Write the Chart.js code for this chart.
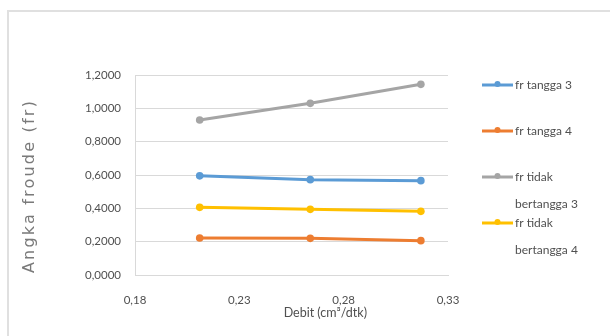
<!DOCTYPE html>
<html>
<head>
<meta charset="utf-8">
<script src="https://cdn.jsdelivr.net/npm/chart.js@4/dist/chart.umd.min.js"></script>
<style>
  html, body { margin: 0; padding: 0; background: #ffffff; }
  canvas { display: block; }
</style>
</head>
<body>
<canvas id="c" width="610" height="336"></canvas>
<script>
// Discharge (x) and Froude number (y) for each configuration
const debit = [0.211, 0.264, 0.317];
const frTangga3 = [0.595, 0.572, 0.566];
const frTangga4 = [0.222, 0.220, 0.206];
const frTidakBertangga3 = [0.930, 1.030, 1.144];
const frTidakBertangga4 = [0.406, 0.394, 0.382];

const seriesLabels = [
  ['fr tangga 3'],
  ['fr tangga 4'],
  ['fr tidak', 'bertangga 3'],
  ['fr tidak', 'bertangga 4']
];
const seriesColors = ['#5b9bd5', '#ed7d31', '#a5a5a5', '#ffc000'];
const seriesValues = [frTangga3, frTangga4, frTidakBertangga3, frTidakBertangga4];

const xTitle = 'Debit (cm³/dtk)';
const yTitle = 'Angka froude (fr)';

const FONT = 'Lato, "Liberation Sans", sans-serif';
const TEXT = '#505050';

const toComma = (v, d) => v.toFixed(d).replace('.', ',');

const datasets = seriesValues.map((vals, i) => ({
  label: seriesLabels[i].join(' '),
  legendLines: seriesLabels[i],
  data: vals.map((y, j) => ({ x: debit[j], y })),
  borderColor: seriesColors[i],
  backgroundColor: seriesColors[i],
  borderWidth: 3,
  pointRadius: 3.8,
  pointBorderWidth: 0,
  pointBackgroundColor: seriesColors[i],
  tension: 0
}));

// Chart frame: light rule along the top and left edges
const frame = {
  id: 'frame',
  beforeDraw(chart) {
    const ctx = chart.ctx;
    ctx.save();
    ctx.fillStyle = '#ffffff';
    ctx.fillRect(0, 0, chart.width, chart.height);
    ctx.strokeStyle = '#e0e0e0';
    ctx.lineWidth = 2;
    ctx.beginPath();
    ctx.moveTo(8, chart.height);
    ctx.lineTo(8, 11);
    ctx.lineTo(chart.width, 11);
    ctx.stroke();
    ctx.restore();
  }
};

// Legend on the right and the two axis titles
const decorations = {
  id: 'decorations',
  afterDraw(chart) {
    const ctx = chart.ctx;
    const area = chart.chartArea;
    ctx.save();
    const legendTop = [85, 131, 177, 223];
    const lineGap = 27;
    chart.data.datasets.forEach((ds, i) => {
      const y = legendTop[i];
      ctx.strokeStyle = ds.borderColor;
      ctx.lineWidth = 3;
      ctx.beginPath();
      ctx.moveTo(482, y);
      ctx.lineTo(513, y);
      ctx.stroke();
      ctx.fillStyle = ds.borderColor;
      ctx.beginPath();
      ctx.arc(497.5, y - 1, 3, 0, Math.PI * 2);
      ctx.fill();
      ctx.fillStyle = TEXT;
      ctx.font = '12px ' + FONT;
      ctx.textAlign = 'left';
      ctx.textBaseline = 'middle';
      ds.legendLines.forEach((t, k) => ctx.fillText(t, 515, y + k * lineGap));
    });
    // x axis title
    ctx.fillStyle = TEXT;
    ctx.font = '12.5px ' + FONT;
    ctx.textAlign = 'center';
    ctx.textBaseline = 'middle';
    ctx.fillText(xTitle, area.left + (area.right - area.left) * 0.608, 313);
    // y axis title, spaced out to span about 172px
    ctx.translate(30, 186);
    ctx.rotate(-Math.PI / 2);
    ctx.fillStyle = '#7a7a7a';
    ctx.font = '16px "DejaVu Sans", sans-serif';
    const plain = ctx.measureText(yTitle).width;
    const gap = Math.min(2.5, Math.max(0, (172 - plain) / (yTitle.length - 1)));
    ctx.letterSpacing = gap + 'px';
    ctx.fillText(yTitle, 0, 0);
    ctx.restore();
  }
};

new Chart(document.getElementById('c'), {
  type: 'line',
  data: { datasets },
  options: {
    responsive: false,
    animation: false,
    layout: { padding: { left: 0, top: 75, right: 162, bottom: 0 } },
    plugins: { legend: { display: false }, tooltip: { enabled: false } },
    scales: {
      x: {
        type: 'linear',
        min: 0.18,
        max: 0.33,
        afterFit(scale) { scale.height = 61; },
        ticks: {
          stepSize: 0.05,
          padding: 18,
          color: TEXT,
          font: { family: FONT, size: 11.5 },
          maxRotation: 0,
          callback: v => toComma(v, 2)
        },
        grid: { display: false, drawTicks: false },
        border: { display: true, color: '#d9d9d9', width: 1 }
      },
      y: {
        min: 0,
        max: 1.2,
        afterFit(scale) { scale.width = 135; },
        ticks: {
          stepSize: 0.2,
          padding: 14,
          color: TEXT,
          font: { family: FONT, size: 11.5 },
          callback: v => toComma(v, 4)
        },
        grid: { color: '#d9d9d9', lineWidth: 1, drawTicks: false },
        border: { display: true, color: '#d9d9d9', width: 1 }
      }
    }
  },
  plugins: [frame, decorations]
});
</script>
</body>
</html>
